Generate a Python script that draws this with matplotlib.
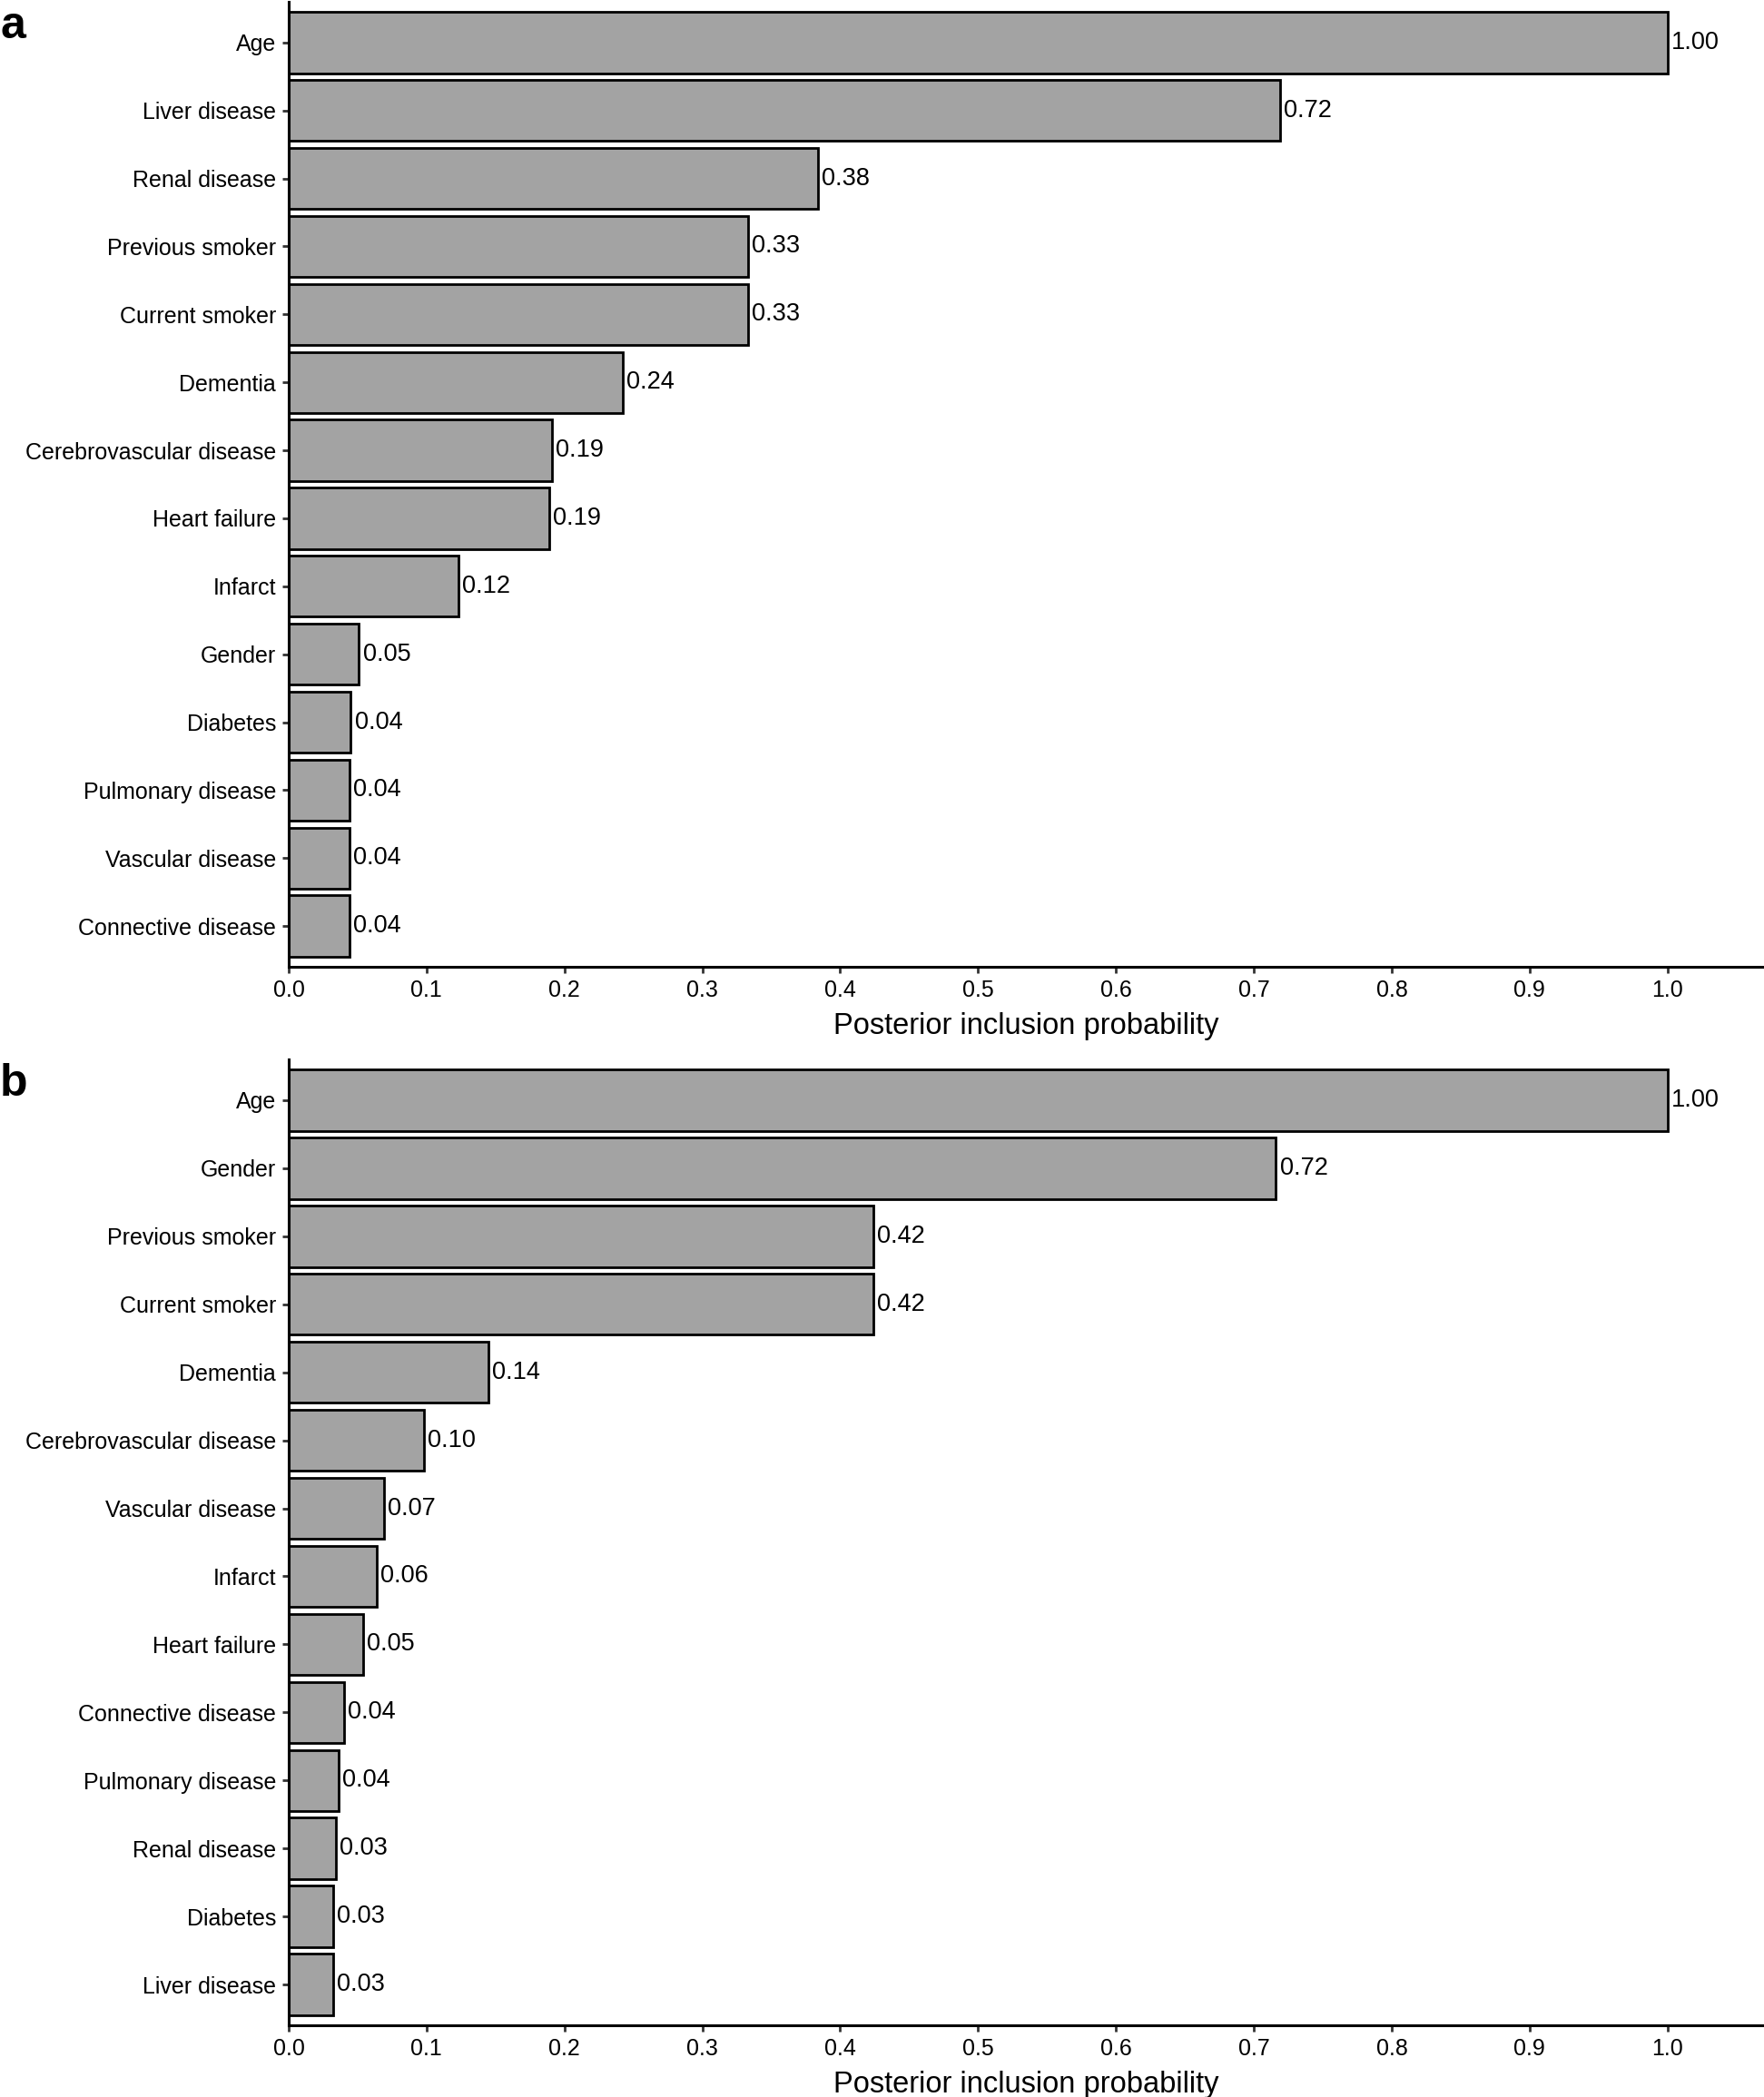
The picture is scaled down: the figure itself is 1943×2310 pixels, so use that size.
import matplotlib.pyplot as plt
import numpy as np

plt.rcParams['font.family'] = ['Liberation Sans', 'DejaVu Sans']

# Panel a
labels_a = ['Age', 'Liver disease', 'Renal disease', 'Previous smoker', 'Current smoker',
            'Dementia', 'Cerebrovascular disease', 'Heart failure', 'Infarct', 'Gender',
            'Diabetes', 'Pulmonary disease', 'Vascular disease', 'Connective disease']
values_a = [1.00, 0.719, 0.384, 0.333, 0.333, 0.242, 0.191, 0.189, 0.123, 0.051,
            0.045, 0.044, 0.044, 0.044]

# Panel b
labels_b = ['Age', 'Gender', 'Previous smoker', 'Current smoker', 'Dementia',
            'Cerebrovascular disease', 'Vascular disease', 'Infarct', 'Heart failure',
            'Connective disease', 'Pulmonary disease', 'Renal disease', 'Diabetes',
            'Liver disease']
values_b = [1.00, 0.716, 0.424, 0.424, 0.145, 0.098, 0.069, 0.064, 0.054,
            0.040, 0.036, 0.034, 0.032, 0.032]

xticks = np.arange(0, 1.01, 0.1)

W, H = 1943, 2310
fig = plt.figure(figsize=(W / 100, H / 100), dpi=100)


def panel(rect, labels, values):
    ax = fig.add_axes(rect)
    y = np.arange(len(labels))
    bars = ax.barh(y, values, height=0.9, color='#a3a3a3', edgecolor='black', linewidth=2.0)
    ax.bar_label(bars, labels=[f'{v:.2f}' for v in values], padding=3, fontsize=19.5)
    ax.set_yticks(y, labels)
    ax.set_ylim(len(labels) - 1 + 0.6, -0.6)
    ax.set_xlim(0, 1.07)
    ax.set_xticks(xticks, [f'{t:.1f}' for t in xticks])
    ax.set_xlabel('Posterior inclusion probability', fontsize=23.5, labelpad=9)
    for s in ['top', 'right']:
        ax.spines[s].set_visible(False)
    for s in ['left', 'bottom']:
        ax.spines[s].set_linewidth(2.2)
    ax.tick_params(axis='both', labelsize=18, length=5, width=2.0, color='#333333')
    ax.tick_params(axis='y', pad=5)
    ax.tick_params(axis='x', pad=5)
    return ax


left = 318 / W
width = 1 - left
panel([left, 1 - 1065 / H, width, 1063 / H], labels_a, values_a)
panel([left, 1 - 2231 / H, width, 1064 / H], labels_b, values_b)

fig.text(0, 1 - 42 / H, 'a', fontsize=36, fontweight='bold', va='baseline', ha='left')
fig.text(0, 1 - 1207 / H, 'b', fontsize=36, fontweight='bold', va='baseline', ha='left')

fig.savefig('out.png', dpi=100)
